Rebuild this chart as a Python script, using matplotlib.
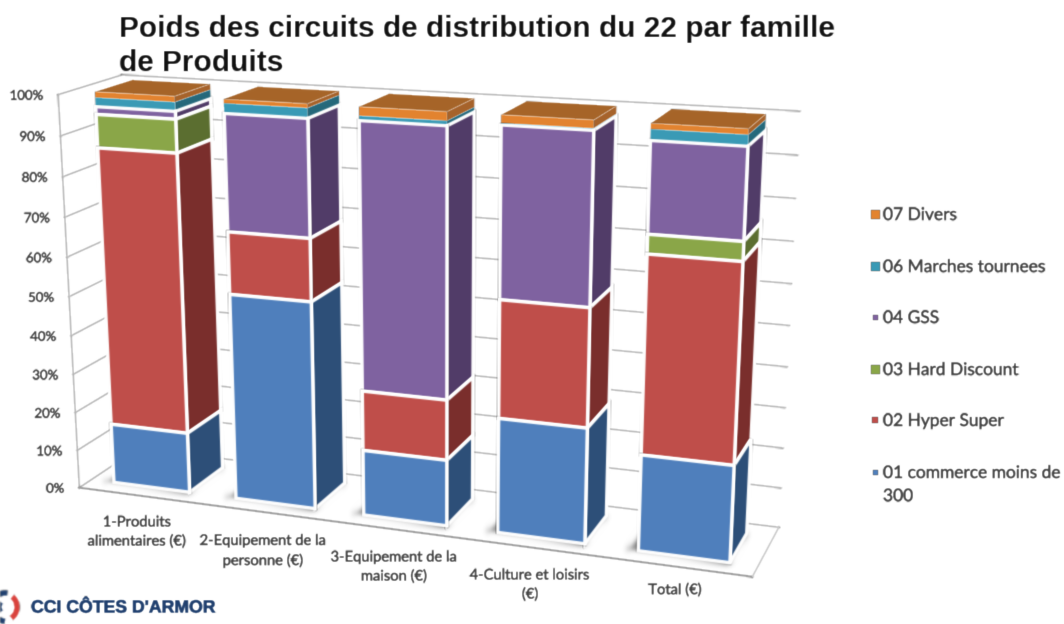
import numpy as np
import matplotlib
matplotlib.use("Agg")
import matplotlib.pyplot as plt
import matplotlib.patheffects as pe
from matplotlib.patches import Polygon, Rectangle, Arc

plt.rcParams['font.family'] = ['Lato', 'DejaVu Sans']

# data (percent of each bar)
categories = ["1-Produits\nalimentaires (€)", "2-Equipement de la\npersonne (€)",
              "3-Equipement de la\nmaison (€)", "4-Culture et loisirs\n(€)", "Total (€)"]
commerce = [15.6, 52.5, 16.6, 28.5, 23.5]
hyper = [70.7, 15.5, 15.0, 28.7, 47.2]
hard = [8.2, 0.0, 0.0, 0.0, 4.5]
gss = [1.9, 28.6, 65.2, 40.5, 21.0]
marches = [2.2, 2.4, 1.1, 0.4, 2.5]
divers = [1.4, 1.0, 2.1, 1.9, 1.3]
series = [commerce, hyper, hard, gss, marches, divers]

front_colors = ["#4F7FBC", "#BF4E4A", "#8AA648", "#7F62A0", "#3A9AB5", "#E2832F"]
side_colors = ["#2D4F78", "#7A2E2C", "#5B6E30", "#513C68", "#25687B", "#A6622A"]
has_edge = [True, True, True, True, False, False]
top_color = "#A66428"

legend_labels = ["07 Divers", "06 Marches tournees", "04 GSS", "03 Hard Discount",
                 "02 Hyper Super", "01 commerce moins de\n300"]
legend_colors = ["#E2832F", "#3A9AB5", "#7F62A0", "#8AA648", "#BF4E4A", "#4F7FBC"]
legend_sizes = [9, 9, 5, 9, 6, 5]
legend_y = [214, 266, 317, 369, 420, 472]

ticks = list(range(0, 101, 10))
label_x = [137, 263, 394, 530, 675]
label_y = [532, 551, 567, 585, 590]

# camera fitted on the corners of the chart box: (u, pct/100, depth) -> pixel
box_world = [(0, 0, 0), (0, 1, 0), (0, 0, 1), (0, 1, 1), (1, 0, 1), (1, 1, 1), (1, 0, 0)]
box_pixel = [(78, 488), (60, 94), (140, 448), (120, 75.5), (779, 527), (800, 111), (752, 577)]


def fit_camera(world, pixel):
    rows = []
    for (a, b, c), (x, y) in zip(world, pixel):
        rows.append([a, b, c, 1, 0, 0, 0, 0, -x * a, -x * b, -x * c, -x])
        rows.append([0, 0, 0, 0, a, b, c, 1, -y * a, -y * b, -y * c, -y])
    return np.linalg.svd(np.array(rows, dtype=float))[2][-1].reshape(3, 4)


cam = fit_camera(box_world, box_pixel)


def proj(u, pct, d):
    p = cam @ np.array([u, pct / 100.0, d, 1.0])
    return p[0] / p[2], p[1] / p[2]


def blur(sigma):
    def f(img, dpi):
        pad = int(3 * sigma) + 1
        out = np.pad(img, ((pad, pad), (pad, pad), (0, 0)))
        k = np.exp(-0.5 * (np.arange(-pad, pad + 1) / sigma) ** 2)
        k /= k.sum()
        for axis in (0, 1):
            out = np.apply_along_axis(lambda m: np.convolve(m, k, mode="same"), axis, out)
        return out, -pad, -pad
    return f


fig = plt.figure(figsize=(10.64, 6.24), dpi=100)
ax = fig.add_axes([0, 0, 1, 1])
ax.set_xlim(0, 1064)
ax.set_ylim(624, 0)
ax.axis("off")

grid = "#B4B4B4"
thick = [pe.withStroke(linewidth=0.35, foreground="#404040")]


def line(p0, p1, color=grid, lw=1.2):
    ax.plot([p0[0], p1[0]], [p0[1], p1[1]], color=color, lw=lw, solid_capstyle="round", zorder=1)


# walls and floor
for t in ticks:
    line(proj(0, t, 0), proj(0, t, 1))
    line(proj(0, t, 1), proj(1, t, 1))
    ax.text(proj(0, t, 0)[0] - 15, proj(0, t, 0)[1] + 1, "%d%%" % t, ha="right", va="center",
            fontsize=9.5, color="#404040", path_effects=thick)
line(proj(0, 0, 0), proj(0, 100, 0))
line(proj(0, 0, 0), proj(1, 0, 0), color="#9A9A9A", lw=1.5)
line(proj(1, 0, 0), proj(1, 0, 1), color="#C8C8C8")

# bars
n = len(categories)
bar_w = 0.625 / n
d0, d1 = 0.2, 0.8
for i in range(n):
    u0 = (i + 0.1875) / n
    u1 = u0 + bar_w
    shadow = [proj(u0 - 0.014, 0, d0 - 0.02), proj(u1, 0, d0 - 0.02), proj(u1, 0, d1), proj(u0 - 0.014, 0, d1)]
    s = Polygon(shadow, facecolor="#7A7A7A", edgecolor="none", zorder=2)
    s.set_agg_filter(blur(3))
    ax.add_patch(s)
    total = sum(vals[i] for vals in series)
    ax.add_patch(Polygon([proj(u0, total, d0), proj(u1, total, d0), proj(u1, total, d1), proj(u0, total, d1)],
                         facecolor=top_color, edgecolor="none", zorder=3))
    top = total
    # top segment first, so the white edge of a lower segment stays visible
    for j in range(len(series) - 1, -1, -1):
        v = series[j][i]
        if v <= 0:
            continue
        bottom = top - v
        ec = "white" if has_edge[j] else "none"
        ax.add_patch(Polygon([proj(u1, bottom, d0), proj(u1, top, d0), proj(u1, top, d1), proj(u1, bottom, d1)],
                             facecolor=side_colors[j], edgecolor=ec, lw=2.4, zorder=3))
        ax.add_patch(Polygon([proj(u0, bottom, d0), proj(u1, bottom, d0), proj(u1, top, d0), proj(u0, top, d0)],
                             facecolor=front_colors[j], edgecolor=ec, lw=2.4, zorder=3))
        top = bottom
    ax.text(label_x[i], label_y[i], categories[i], ha="center", va="center", fontsize=10.6,
            color="#404040", linespacing=1.42, path_effects=thick)

# legend
for lab, col, sz, y in zip(legend_labels, legend_colors, legend_sizes, legend_y):
    ax.add_patch(Rectangle((875 - sz / 2, y - sz / 2), sz, sz, facecolor=col, edgecolor="none"))
    ax.text(883, y - 7, lab, ha="left", va="top", fontsize=12.5, color="#404040", linespacing=1.55, path_effects=thick)

# title
ax.text(119, 46, "Poids des circuits de distribution du 22 par famille\nde Produits", ha="left", va="center",
        fontsize=21.5, fontweight="bold", family="Liberation Sans", color="#111111", linespacing=1.27)

# logo
navy = "#1F3F6E"
ax.text(31, 608, "CCI CÔTES D'ARMOR", ha="left", va="center", fontsize=12.7, fontweight="bold",
        family="Liberation Sans", color=navy, path_effects=[pe.withStroke(linewidth=0.5, foreground=navy)])
ax.add_patch(Arc((5, 607), 28, 28, theta1=90, theta2=165, color=navy, lw=4))
ax.add_patch(Arc((5, 607), 28, 28, theta1=195, theta2=280, color=navy, lw=4))
ax.add_patch(Arc((5, 607), 24, 26, theta1=-55, theta2=60, color="#D9413B", lw=4))
ax.add_patch(Arc((5, 607), 12, 14, theta1=130, theta2=230, color=navy, lw=4))

for art in ax.get_children():
    if art.get_agg_filter() is None and (art.__class__.__name__ in ("Text", "Line2D", "Polygon", "Rectangle", "Arc")):
        art.set_agg_filter(blur(0.6))

fig.savefig("out.png", dpi=100)
